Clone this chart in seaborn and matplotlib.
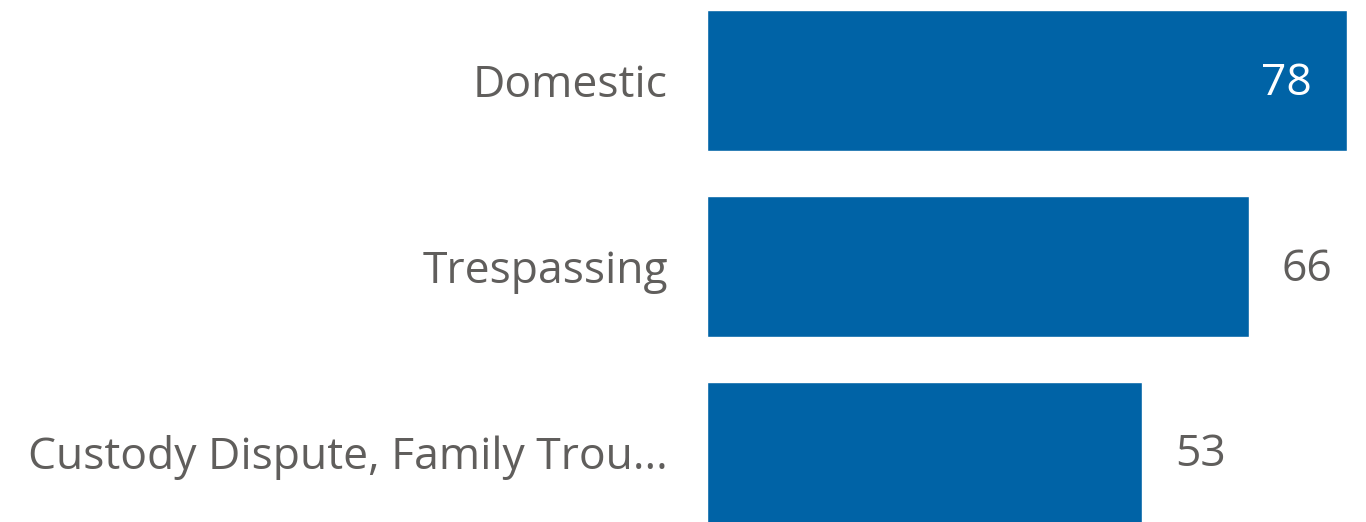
import matplotlib
matplotlib.use("Agg")
import matplotlib.pyplot as plt
import seaborn as sns
import pandas as pd

categories = ["Domestic", "Trespassing", "Custody Dispute, Family Trou..."]
values = [78, 66, 53]

bar_color = "#0063A6"
text_color = "#605E5C"

sns.set_theme(style="white")
plt.rcParams['font.family'] = ['Open Sans', 'DejaVu Sans']

df = pd.DataFrame({"category": categories, "value": values})

fig = plt.figure(figsize=(13.66, 5.22), dpi=100)
ax = fig.add_axes([707/1366, 0, 640/1366, 1])
sns.barplot(data=df, x="value", y="category", orient="h", color=bar_color,
            width=141/186, saturation=1, ax=ax)
ax.set_xlim(0, 78)
ax.set_ylim(2.374, -0.433)
ax.set_xlabel("")
ax.set_ylabel("")
ax.set_xticks([])
for s in ax.spines.values():
    s.set_visible(False)
ax.tick_params(axis="y", length=0, pad=28, labelsize=32, labelcolor=text_color)

xmax = 78
for i, v in enumerate(values):
    if v > 0.85 * xmax:
        ax.text(v - 4.27, i + 0.015, str(v), ha="right", va="center", color="white", fontsize=32)
    else:
        ax.text(v + 4.0, i + 0.015, str(v), ha="left", va="center", color=text_color, fontsize=32)

fig.savefig("out.png", dpi=100)
